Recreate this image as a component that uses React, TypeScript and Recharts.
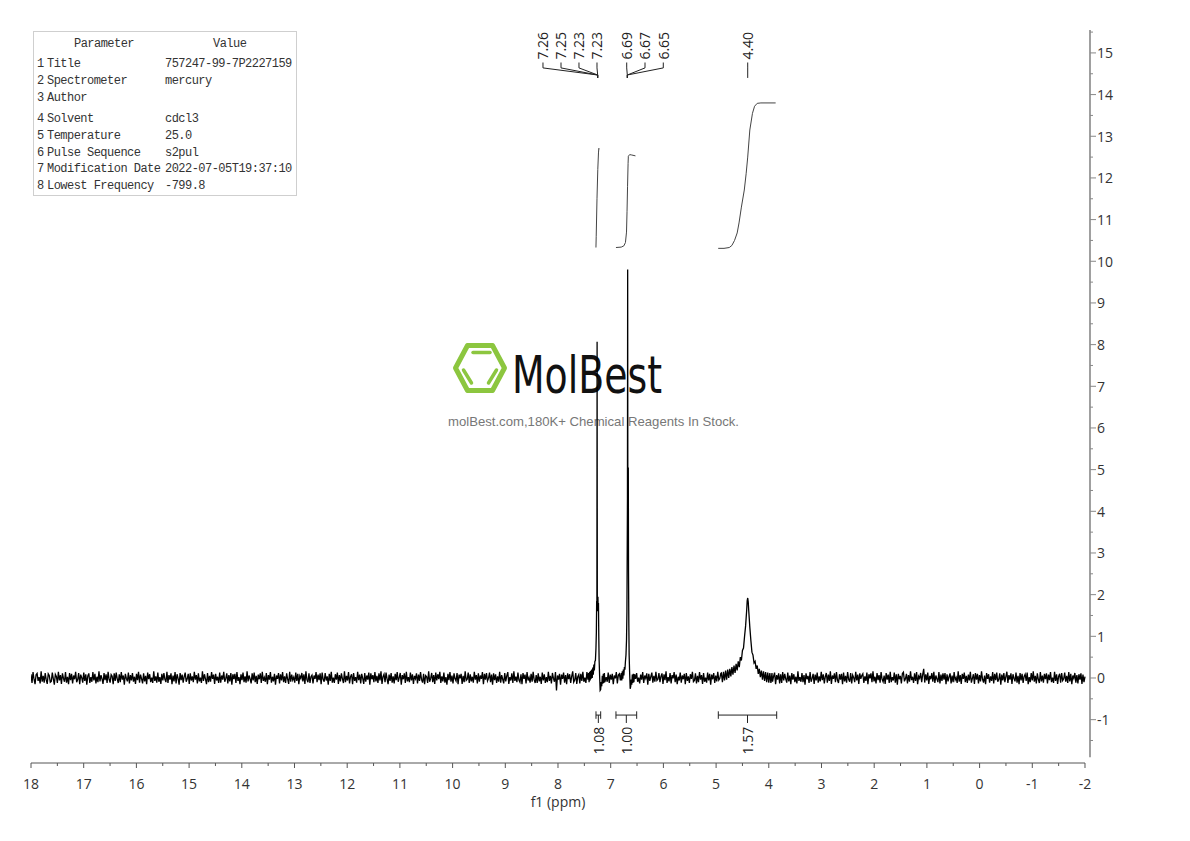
import React from 'react'
import { ComposedChart, Line, Scatter, XAxis, YAxis, ReferenceLine } from 'recharts'

// baseline noise, in hundredths, evenly over 18 -> -2 ppm
const baseNoise = [
  9, -12, 14, -3, -15, 8, 11, -7, 2, -13, 16, -9, 5, -11, 12, -4, -14, 10, 6, -10,
  -8, 13, -2, -16, 9, 4, -12, 15, -6, 7, -14, 11, -1, -9, 14, -11, 3, -15, 12, -5,
  10, -13, 6, -3, 15, -10, -4, 12, -15, 8, 1, -11, 13, -7, 9, -16, 5, 11, -12, 2,
  -9, 14, -6, 10, -13, 3, -10, 16, -8, 7, -2, -14, 12, -5, 9, -12, 15, -3, -11, 8,
  4, -15, 11, -7, 13, -2, -12, 9, -10, 14, -4, 6, -16, 10, -1, -8, 13, -13, 7, -6,
  12, -9, 3, -14, 10, -5, 15, -11, 8, -2, -13, 11, -8, 5, -15, 13, -3, 9, -10, 1,
  -12, 16, -7, 4, -11, 13, -9, 2, -14, 10, -6, 12, -3, -10, 15, -12, 7, -4, 11, -15,
  6, -8, 14, -13, 9, -1, -16, 12, -5, 8, -11, 3, 13, -9, -2, 10, -14, 11, -6, 4,
  -10, 15, -4, 7, -13, 11, -8, 1, -12, 16, -7, 9, -3, -15, 12, -10, 5, -9, 14, -2,
  8, -14, 10, -6, 3, -12, 13, -11, 6, -4, 15, -9, -1, 11, -13, 7, -8, 12, -16, 9,
  -3, 10, -12, 14, -7, 2, -15, 9, -5, 13, -10, 4, -11, 16, -8, 6, -2, -13, 11, -6,
  13, -10, 5, -14, 8, -3, 11, -12, 15, -7, 1, -9, 12, -15, 7, -4, 14, -11, 3, -8,
  10, -16, 6, -2, 12, -13, 9, -6, 14, -10, 4, -12, 11, -3, -14, 15, -9, 8, -5, 2,
  -11, 13, -7, 10, -15, 5, -1, 12, -8, 9, -14, 16, -4, -10, 11, -12, 3, 7, -13, 6,
  -2, 14, -10, 8, -5, 11, -15, 13, -3, -9, 12, -6, 4, -16, 10, -7, 15, -11, 1, -12,
  9, -4, 13, -14, 7, -8, 11, -2, -12, 16, -10, 5, -6, 14, -13, 3, 9, -15, 12, -7,
  2, -11, 15, -5, 8, -13, 10, -1, -14, 12, -9, 6, -4, 13, -16, 11, -3, 7, -10, 14,
  -8, 5, -12, 11, -6, 16, -14, 3, 9, -10, 13, -2, -15, 8, -7, 12, -11, 4, -13, 10,
  -5, 14, -9, 1, 12, -16, 7, -3, 11, -12, 15, -8, 2, -10, 13, -6, 9, -14, 5, -2,
  11, -13, 8, -7, 14, -4, -11, 10, -15, 6, 3, -12, 16, -9, -1, 12, -10, 7, -14, 13,
  -6, 9, -3, 15, -12, 4, -8, 13, -11, 2, -16, 10, -5, 14, -9, 6, -13, 11, -2, -7,
  12, -15, 8, -1, 10, -14, 5, -10, 16, -6, -3, 13, -12, 9, -8, 3, -11, 15, -4, 7,
  -13, 11, -9, 6, -2, 14, -15, 10, -4, 12, -7, -1, 13, -10, 8, -16, 11, -5, 9, -12,
  4, -9, 15, -11, 7, -3, -13, 12, -8, 5, 14, -14, 2, -6, 11, -12, 16, -7, 3, -10,
  13, -5, -10, 9, -15, 12, -2, 8, -13, 14, -6, 1, -11, 10, -9, 15, -4, -12, 7, -12,
  11, -8, 3, -14, 13, -6, 9, -12, 2, -10, 15, -7, 5, -13, 12, -1, -9, 14, -30, 6,
  -4, 10, -16, 8, -2, 13, -11, 7, -15, 11, -3, 9, -12, 4, 16, -10, -5, 12, -14, 3,
  8, -13, 10, -7, 15, -9, 1, -12, 14, -4, 6, -16, 11, -8, 3, -10, 13, -6, 9, -15,
  -2, 12, -11, 5, -14, 16, -7, 2, -9, 13, -12, 8, -4, 10, -15, 6, -1, 14, -13, 7,
  10, -6, 13, -15, 4, -8, 12, -3, -11, 15, -10, 7, -5, 11, -14, 9, -2, 12, -9, 1,
  -13, 8, -4, 14, -12, 6, -1, 11, -16, 10, -7, 3, 13, -11, 5, -9, 15, -6, -3, 12,
  -10, 4, 11, -14, 9, -5, 16, -12, 2, -8, 12, -13, 7, -1, 14, -10, 8, -15, 3, -6,
  13, -11, 6, -3, 10, -15, 12, -7, 4, -12, 9, -2, 15, -9, -6, 11, -13, 5, -10, 14,
  -4, 7, -14, 12, -9, 1, -11, 13, -6, 10, -16, 8, -3, 12, -12, 6, -8, 15, -5, -1,
  11, -12, 3, -10, 14, -7, 9, -13, 5, -4, 16, -11, 7, -2, -14, 13, -8, 10, -15, 4,
  -7, 15, -9, 2, -13, 11, -5, 8, -12, 14, -3, -10, 12, -6, 9, -16, 6, -1, 13, -11,
  5, -3, 12, -14, 8, -10, 15, -6, 1, -12, 10, -9, 4, 13, -15, 7, -4, 11, -13, 9,
  -12, 14, -6, 10, -2, -11, 13, -8, 6, -15, 12, -4, 9, -10, 3, -13, 16, -7, 2, -9,
  12, -10, 7, -16, 11, -3, 5, -12, 14, -9, -1, 10, -14, 8, -6, 13, -11, 4, -8, 15,
  -5, 9, -13, 3, 12, -11, 8, -7, 16, -14, 6, -2, 11, -10, 14, -5, -12, 9, -4, 10,
  -15, 13, -8, 5, -11, 14, -3, -9, 12, -13, 7, 1, -10, 15, -6, 8, -14, 11, -2, 6,
  10, -12, 4, -7, 13, -15, 9, -1, 11, -10, 16, -8, 3, -13, 12, -5, 7, -11, 14, -3,
  -9, 6, -14, 12, -4, 8, -12, 15, -10, 2, -6, 13, -11, 9, -16, 10, -3, 5, -13, 11,
  14, -8, -2, 10, -13, 7, -9, 16, -5, 3, -12, 11, -7, 14, -15, 4, -1, 12, -10, 8,
  22, -11, 9, -6, 13, -14, 5, -3, 12, -9, 15, -12, 6, -2, -10, 14, -13, 8, -7, 11,
  -4, 12, -15, 9, -8, 3, 11, -13, 6, -10, 14, -5, 1, -12, 16, -9, 7, -14, 10, -2,
  13, -10, 5, -12, 8, -6, 15, -11, -1, 9, -14, 12, -4, 10, -13, 7, -8, 16, -3, -11,
  6, -15, 12, -2, 9, -11, 4, -7, 14, -13, 10, -5, 13, -9, -3, 11, -16, 8, -6, 12,
  -10, 3, 15, -12, 7, -4, 11, -14, 9, -1, -8, 13, -11, 5, -15, 12, -6, 10, -12, 4,
  9, -7, 13, -15, 2, -10, 12, -6, 16, -9, 5, -13, 11, -3, -12, 14, -8, 6, -11, 10,
  -3, 11, -13, 8, -5, 14, -10, 1, -12, 15, -7, 9, -14, 4, 10, -11, 12, -6, -2, 13,
  -9, 5, -12, 14, -8, 10, -15, 6, -1, 12, -11, 7, -13, 9, -4, 11, -14, 8, -10, 3,
]

// peak regions (ppm, intensity)
const peakA: [number, number][] = [
  [7.42, 0.12], [7.41, -0.1], [7.4, 0.15], [7.39, -0.06], [7.38, 0.17], [7.37, -0.02],
  [7.36, 0.2], [7.35, 0.0], [7.34, 0.25], [7.33, 0.08], [7.32, 0.32], [7.31, 0.18],
  [7.3, 0.4], [7.29, 0.42], [7.28, 0.7], [7.272, 1.1], [7.266, 1.85], [7.262, 1.6],
  [7.258, 8.07], [7.254, 1.8], [7.25, 1.9], [7.246, 1.7], [7.242, 1.95], [7.238, 1.6],
  [7.232, 1.8], [7.226, 1.0], [7.22, 0.45], [7.21, 0.05], [7.2, -0.3], [7.19, -0.28],
  [7.18, -0.1], [7.17, -0.2], [7.16, 0.05], [7.15, -0.14], [7.14, 0.1], [7.13, -0.12],
  [7.12, 0.12], [7.11, -0.1],
]
const peakB: [number, number][] = [
  [6.8, 0.12], [6.79, -0.06], [6.78, 0.16], [6.77, -0.02], [6.76, 0.2], [6.75, 0.06],
  [6.74, 0.26], [6.73, 0.2], [6.72, 0.4], [6.71, 0.55], [6.7, 0.9], [6.692, 1.6],
  [6.686, 3.2], [6.682, 4.3], [6.678, 9.8], [6.674, 3.6], [6.67, 4.1], [6.666, 5.05],
  [6.662, 2.6], [6.656, 1.3], [6.65, 0.55], [6.64, 0.1], [6.63, -0.26], [6.62, -0.2],
  [6.61, -0.04], [6.6, -0.16], [6.59, 0.08], [6.58, -0.12], [6.57, 0.1], [6.56, -0.1],
]
const peakC: [number, number][] = [
  [4.9, 0.12], [4.88, -0.1], [4.86, 0.15], [4.84, -0.06], [4.82, 0.18], [4.8, -0.04],
  [4.78, 0.2], [4.76, 0.0], [4.74, 0.22], [4.72, 0.04], [4.7, 0.26], [4.68, 0.08],
  [4.66, 0.3], [4.64, 0.12], [4.62, 0.34], [4.6, 0.18], [4.58, 0.4], [4.56, 0.26],
  [4.54, 0.5], [4.52, 0.42], [4.5, 0.66], [4.48, 0.72], [4.46, 1.0], [4.44, 1.25],
  [4.42, 1.62], [4.41, 1.85], [4.4, 1.92], [4.39, 1.82], [4.38, 1.6], [4.36, 1.22],
  [4.34, 0.9], [4.32, 0.62], [4.3, 0.55], [4.28, 0.36], [4.26, 0.4], [4.24, 0.22],
  [4.22, 0.3], [4.2, 0.1], [4.18, 0.22], [4.16, 0.02], [4.14, 0.18], [4.12, -0.04],
  [4.1, 0.16], [4.08, -0.07], [4.06, 0.14], [4.04, -0.1], [4.02, 0.13], [4.0, -0.11],
  [3.98, 0.12], [3.96, -0.12], [3.94, 0.12],
]

// integral traces
const integral1: [number, number][] = [
  [7.28, 10.33], [7.275, 10.6], [7.26, 11.5], [7.245, 12.2], [7.232, 12.6], [7.225, 12.71], [7.218, 12.69],
]
const integral2: [number, number][] = [
  [6.9, 10.33], [6.8, 10.34], [6.75, 10.37], [6.72, 10.45], [6.7, 10.7], [6.69, 11.2],
  [6.68, 11.8], [6.67, 12.35], [6.665, 12.52], [6.64, 12.56], [6.6, 12.55], [6.53, 12.53],
]
const integral3: [number, number][] = [
  [4.96, 10.31], [4.85, 10.31], [4.75, 10.33], [4.7, 10.38], [4.65, 10.5], [4.6, 10.68],
  [4.565, 10.92], [4.52, 11.3], [4.465, 11.71], [4.43, 12.1], [4.4, 12.5], [4.36, 13.15],
  [4.31, 13.55], [4.27, 13.72], [4.22, 13.79], [4.15, 13.8], [3.87, 13.8],
]

const peakLabels = ['7.26', '7.25', '7.23', '7.23', '6.69', '6.67', '6.65', '4.40']
const peakLabelPos = [8.285, 7.943, 7.602, 7.26, 6.696, 6.349, 6.002, 4.4]
const peakTargets = [7.247, 7.247, 7.247, 7.247, 6.685, 6.685, 6.685, 4.4]

const integralLabels = ['1.08', '1.00', '1.57']
const integralRanges: [number, number][] = [[7.279, 7.19], [6.9, 6.507], [4.958, 3.85]]

const xMajor = [18, 17, 16, 15, 14, 13, 12, 11, 10, 9, 8, 7, 6, 5, 4, 3, 2, 1, 0, -1, -2]
const yMajor = [-1, 0, 1, 2, 3, 4, 5, 6, 7, 8, 9, 10, 11, 12, 13, 14, 15]

const tableRows = [
  ['1', 'Title', '757247-99-7P2227159'],
  ['2', 'Spectrometer', 'mercury'],
  ['3', 'Author', ''],
  ['4', 'Solvent', 'cdcl3'],
  ['5', 'Temperature', '25.0'],
  ['6', 'Pulse Sequence', 's2pul'],
  ['7', 'Modification Date', '2022-07-05T19:37:10'],
  ['8', 'Lowest Frequency', '-799.8'],
]
const rowTops = [63, 80, 97, 118, 135, 152, 168, 185]

const inRegion = (p: number) =>
  [peakA, peakB, peakC].some((r) => p <= r[0][0] && p >= r[r.length - 1][0])

const toPts = (arr: [number, number][]) => arr.map(([ppm, v]) => ({ ppm, v }))

const spectrum = baseNoise
  .map((n, i) => ({ ppm: 18 - (i * 20) / (baseNoise.length - 1), v: n / 100 }))
  .filter((p) => !inRegion(p.ppm))
  .concat(toPts(peakA), toPts(peakB), toPts(peakC))
  .sort((a, b) => b.ppm - a.ppm)

// connector levels, in intensity units
const LBL_Y = 14.84
const connectors: { ppm: number; v: number | null }[] = []
peakLabelPos.forEach((p, i) => {
  const t = peakTargets[i]
  connectors.push({ ppm: p, v: 14.77 }, { ppm: p, v: 14.64 }, { ppm: t, v: 14.47 }, { ppm: t, v: 14.4 }, { ppm: t, v: null })
})

const BR_Y = -0.89
const brackets: { ppm: number; v: number | null }[] = []
integralRanges.forEach(([hi, lo]) => {
  const mid = (hi + lo) / 2
  brackets.push(
    { ppm: hi, v: -0.8 }, { ppm: hi, v: -0.98 }, { ppm: hi, v: null },
    { ppm: hi, v: BR_Y }, { ppm: lo, v: BR_Y }, { ppm: lo, v: null },
    { ppm: lo, v: -0.8 }, { ppm: lo, v: -0.98 }, { ppm: lo, v: null },
    { ppm: mid, v: BR_Y }, { ppm: mid, v: -1.08 }, { ppm: mid, v: null },
  )
})

const peakLabelData = peakLabels.map((text, i) => ({ ppm: peakLabelPos[i], v: LBL_Y, text }))
const integralLabelData = integralLabels.map((text, i) => ({
  ppm: (integralRanges[i][0] + integralRanges[i][1]) / 2,
  v: -1.17,
  text,
}))

const FONT = '"Open Sans", "DejaVu Sans", sans-serif'

function XTick(props: any) {
  const { x, y, payload } = props
  const major = Number.isInteger(payload.value)
  return (
    <g>
      <line x1={x} y1={y} x2={x} y2={y + (major ? 5 : 3)} stroke="#555" />
      {major && (
        <text x={x} y={y + 26} textAnchor="middle" fontSize={14} fill="#333" fontFamily={FONT}>
          {payload.value}
        </text>
      )}
    </g>
  )
}

function YTick(props: any) {
  const { x, y, payload } = props
  const major = Number.isInteger(payload.value)
  return (
    <g>
      <line x1={x} y1={y} x2={x + (major ? 6 : 3)} y2={y} stroke="#888" />
      {major && (
        <text x={x + 7} y={y} dominantBaseline="central" fontSize={14} fill="#333" fontFamily={FONT}>
          {payload.value}
        </text>
      )}
    </g>
  )
}

function RotLabel(anchor: 'start' | 'end') {
  return (props: any) => {
    const { cx, cy, payload } = props
    return (
      <text
        x={cx}
        y={cy}
        transform={`rotate(-90 ${cx} ${cy})`}
        textAnchor={anchor}
        dominantBaseline="central"
        fontSize={14}
        fill="#222"
        fontFamily={FONT}
      >
        {payload.text}
      </text>
    )
  }
}

function Watermark() {
  return (
    <svg width={1190} height={841} style={{ position: 'absolute', left: 0, top: 0 }}>
      <g stroke="#8cc63f" fill="none" strokeLinecap="round" strokeLinejoin="round">
        <polygon
          points="455.5,368 467.5,345.5 492.5,345.5 504.5,368 492.5,390.5 467.5,390.5"
          strokeWidth={5}
        />
        <line x1={473} y1={352.5} x2={490} y2={352.5} strokeWidth={3.5} />
        <line x1={463.5} y1={370} x2={471.5} y2={383} strokeWidth={3.5} />
        <line x1={496.5} y1={370} x2={488.5} y2={383} strokeWidth={3.5} />
      </g>
      <text
        x={512}
        y={393}
        fontSize={52}
        fontFamily='"DejaVu Sans", sans-serif'
        textLength={150}
        lengthAdjust="spacingAndGlyphs"
        fill="#111"
      >
        MolBest
      </text>
      <text
        x={448}
        y={426}
        fontSize={13}
        fontFamily='"Liberation Sans", Arial, sans-serif'
        textLength={291}
        lengthAdjust="spacingAndGlyphs"
        fill="#777"
      >
        molBest.com,180K+ Chemical Reagents In Stock.
      </text>
      <text x={558} y={807} textAnchor="middle" fontSize={14} fill="#333" fontFamily={FONT}>
        f1 (ppm)
      </text>
    </svg>
  )
}

function ParamTable() {
  const cell: React.CSSProperties = {
    position: 'absolute',
    fontFamily: '"Liberation Mono", monospace',
    fontSize: 12,
    letterSpacing: '-0.53px',
    color: '#333',
    lineHeight: '14px',
    whiteSpace: 'pre',
  }
  return (
    <div
      style={{
        position: 'absolute',
        left: 33,
        top: 31,
        width: 264,
        height: 165,
        border: '1px solid #cfcfcf',
        boxSizing: 'border-box',
        background: '#fff',
      }}
    >
      <div style={{ ...cell, left: 40, top: 5 }}>Parameter</div>
      <div style={{ ...cell, left: 179, top: 5 }}>Value</div>
      {tableRows.map((r, i) => (
        <React.Fragment key={i}>
          <div style={{ ...cell, left: 3, top: rowTops[i] - 38 }}>{r[0]}</div>
          <div style={{ ...cell, left: 13, top: rowTops[i] - 38 }}>{r[1]}</div>
          <div style={{ ...cell, left: 131, top: rowTops[i] - 38 }}>{r[2]}</div>
        </React.Fragment>
      ))}
    </div>
  )
}

export default function App() {
  const xTicks = xMajor.flatMap((t) => (t > -2 ? [t, t - 0.5] : [t]))
  const yTicks = [-1.5, ...yMajor.flatMap((t) => [t, t + 0.5])]
  return (
    <div
      style={{
        position: 'absolute',
        left: 0,
        top: 0,
        width: 1190,
        height: 841,
        background: '#fff',
        overflow: 'hidden',
      }}
    >
      <Watermark />
      <div style={{ position: 'absolute', left: 0, top: 0 }}>
        <ComposedChart width={1190} height={841} margin={{ top: 30, right: 40, bottom: 38, left: 31 }}>
          <XAxis
            dataKey="ppm"
            type="number"
            domain={[-2.095, 18]}
            reversed
            allowDataOverflow
            ticks={xTicks}
            interval={0}
            tickLine={false}
            axisLine={false}
            tickSize={0}
            tickMargin={0}
            height={40}
            tick={<XTick />}
          />
          <YAxis
            orientation="right"
            type="number"
            domain={[-2.04, 15.55]}
            allowDataOverflow
            ticks={yTicks}
            interval={0}
            tickLine={false}
            axisLine={false}
            tickSize={0}
            tickMargin={0}
            width={60}
            tick={<YTick />}
          />
          <ReferenceLine
            segment={[{ x: 18, y: -2.04 }, { x: -2, y: -2.04 }]}
            stroke="#555"
            strokeWidth={1}
            ifOverflow="visible"
          />
          <ReferenceLine
            segment={[{ x: -2.095, y: 15.55 }, { x: -2.095, y: -1.9 }]}
            stroke="#888"
            strokeWidth={1.6}
            ifOverflow="visible"
          />
          <Line data={spectrum} dataKey="v" stroke="#000" strokeWidth={1.3} dot={false} isAnimationActive={false} />
          <Line data={toPts(integral1)} dataKey="v" stroke="#444" strokeWidth={1} dot={false} isAnimationActive={false} />
          <Line data={toPts(integral2)} dataKey="v" stroke="#444" strokeWidth={1} dot={false} isAnimationActive={false} />
          <Line data={toPts(integral3)} dataKey="v" stroke="#444" strokeWidth={1} dot={false} isAnimationActive={false} />
          <Line data={connectors} dataKey="v" stroke="#222" strokeWidth={1} dot={false} isAnimationActive={false} />
          <Line data={brackets} dataKey="v" stroke="#222" strokeWidth={1} dot={false} isAnimationActive={false} />
          <Scatter data={peakLabelData} dataKey="v" shape={RotLabel('start')} isAnimationActive={false} />
          <Scatter data={integralLabelData} dataKey="v" shape={RotLabel('end')} isAnimationActive={false} />
        </ComposedChart>
      </div>
      <ParamTable />
    </div>
  )
}
